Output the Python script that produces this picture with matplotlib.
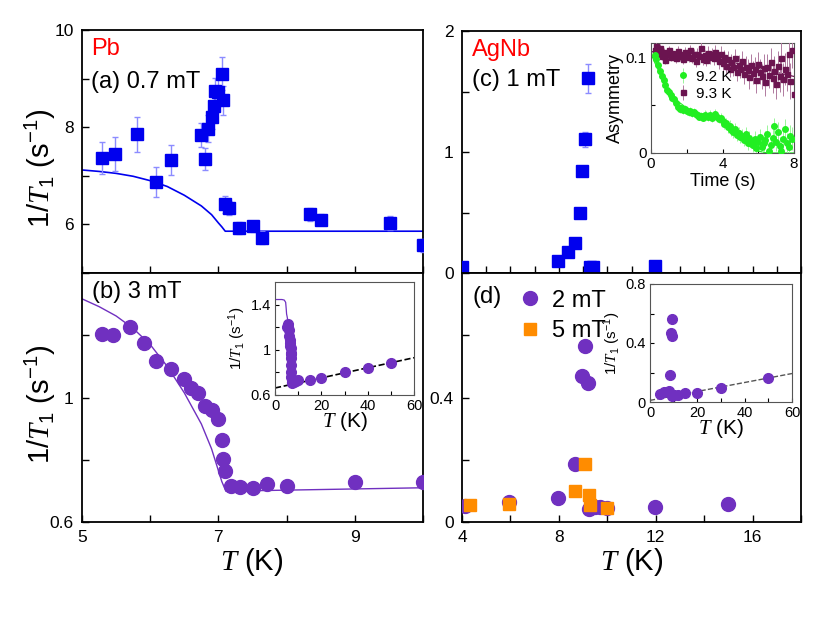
import matplotlib
matplotlib.use("Agg")
import matplotlib.pyplot as plt
import numpy as np

plt.rcParams['font.family'] = ['Liberation Sans', 'DejaVu Sans']
plt.rcParams['mathtext.fontset'] = 'custom'
plt.rcParams['mathtext.it'] = 'Liberation Serif:italic'
plt.rcParams['mathtext.rm'] = 'Liberation Sans'
plt.rcParams['mathtext.default'] = 'rm'

# ---------------- data ----------------
# (a) Pb, 0.7 mT
a_T = [5.29, 5.49, 5.80, 6.09, 6.30, 6.74, 6.80, 6.85, 6.90, 6.94, 6.95, 7.00, 7.05, 7.07,
       7.09, 7.15, 7.30, 7.50, 7.64, 8.34, 8.50, 9.51, 10.0]
a_R = [7.36, 7.45, 7.85, 6.88, 7.33, 7.84, 7.34, 7.97, 8.21, 8.43, 8.74, 8.72, 9.10, 8.55,
       6.41, 6.34, 5.93, 5.96, 5.73, 6.21, 6.10, 6.03, 5.57]
a_E = [0.33, 0.35, 0.36, 0.31, 0.31, 0.25, 0.23, 0.28, 0.25, 0.27, 0.28, 0.28, 0.34, 0.30,
       0.17, 0.15, 0.12, 0.12, 0.13, 0.13, 0.12, 0.14, 0.13]
a_fitT = [5.0, 5.25, 5.5, 5.75, 6.0, 6.25, 6.5, 6.75, 6.9, 7.0, 7.05, 7.1, 10.0]
a_fitR = [7.12, 7.09, 7.05, 6.99, 6.90, 6.78, 6.60, 6.38, 6.20, 6.03, 5.95, 5.86, 5.86]

# (b) Pb, 3 mT
b_T = [5.29, 5.45, 5.70, 5.91, 6.09, 6.30, 6.50, 6.60, 6.70, 6.80, 6.90, 7.00, 7.05, 7.07,
       7.10, 7.19, 7.31, 7.50, 7.71, 8.00, 9.00, 10.0]
b_R = [1.204, 1.200, 1.226, 1.175, 1.118, 1.091, 1.059, 1.030, 1.016, 0.973, 0.961, 0.930,
       0.863, 0.804, 0.763, 0.715, 0.711, 0.709, 0.723, 0.715, 0.728, 0.729]
b_fitT = [5.0, 5.25, 5.5, 5.75, 6.0, 6.25, 6.5, 6.75, 6.9, 7.0, 7.05, 7.11, 10.0]
b_fitR = [1.317, 1.292, 1.262, 1.222, 1.170, 1.100, 1.015, 0.915, 0.835, 0.765, 0.730, 0.699, 0.710]
# (b) inset extra high-T points
bi_T = [15, 20, 30, 40, 50]
bi_R = [0.732, 0.748, 0.805, 0.843, 0.879]
bi_fitT = [0, 3, 4, 4.6, 4.85]
bi_fitR = [1.445, 1.445, 1.44, 1.42, 1.36]
bi_lineT = [0, 60]
bi_lineR = [0.662, 0.930]

# (c) AgNb, 1 mT
c_T = [4.0, 7.98, 8.36, 8.66, 8.88, 8.97, 9.08, 9.20, 9.27, 9.39, 11.96]
c_R = [0.052, 0.097, 0.177, 0.246, 0.50, 0.843, 1.105, 1.608, 0.052, 0.047, 0.058]
c_E = [0, 0, 0, 0, 0, 0, 0.06, 0.12, 0, 0, 0]

# (c) inset: asymmetry vs time
t_92 = [0.2, 0.3, 0.4, 0.5, 0.6, 0.7, 0.8, 0.9, 1.0, 1.1, 1.2, 1.3, 1.4, 1.5, 1.6, 1.7, 1.8,
        1.9, 2.0, 2.1, 2.2, 2.3, 2.4, 2.5, 2.6, 2.7, 2.8, 2.9, 3.0, 3.1, 3.2, 3.3, 3.4, 3.5,
        3.6, 3.7, 3.8, 3.9, 4.0, 4.1, 4.2, 4.3, 4.4, 4.5, 4.6, 4.7, 4.8, 4.9, 5.0, 5.1, 5.2,
        5.3, 5.4, 5.5, 5.6, 5.7, 5.8, 5.9, 6.0, 6.1, 6.2, 6.3, 6.4, 6.5, 6.6, 6.7, 6.8, 6.9,
        7.0, 7.1, 7.2, 7.3, 7.4, 7.5, 7.6, 7.7, 7.8, 7.9]
A_92 = [0.102, 0.098, 0.092, 0.086, 0.080, 0.076, 0.071, 0.066, 0.064, 0.061, 0.058, 0.056,
        0.052, 0.048, 0.046, 0.047, 0.045, 0.046, 0.044, 0.043, 0.044, 0.042, 0.043, 0.041,
        0.040, 0.038, 0.039, 0.037, 0.040, 0.039, 0.038, 0.040, 0.037, 0.039, 0.041, 0.038,
        0.036, 0.037, 0.033, 0.030, 0.031, 0.027, 0.028, 0.024, 0.022, 0.025, 0.019, 0.021,
        0.017, 0.018, 0.014, 0.020, 0.010, 0.016, 0.012, 0.008, 0.015, 0.005, 0.012, 0.017,
        0.006, 0.010, 0.014, 0.020, 0.002, 0.008, 0.016, 0.028, 0.012, 0.022, 0.007, 0.002,
        0.015, 0.025, 0.010, 0.006, 0.018, 0.015]
E_92 = [0.003, 0.003, 0.003, 0.003, 0.003, 0.003, 0.003, 0.003, 0.003, 0.003, 0.003, 0.003,
        0.004, 0.004, 0.004, 0.004, 0.004, 0.004, 0.004, 0.004, 0.004, 0.004, 0.004, 0.004,
        0.004, 0.004, 0.004, 0.004, 0.005, 0.005, 0.005, 0.005, 0.005, 0.005, 0.005, 0.005,
        0.005, 0.005, 0.005, 0.005, 0.006, 0.006, 0.006, 0.006, 0.006, 0.006, 0.006, 0.006,
        0.007, 0.007, 0.007, 0.007, 0.007, 0.007, 0.007, 0.007, 0.008, 0.008, 0.008, 0.008,
        0.008, 0.008, 0.009, 0.009, 0.009, 0.009, 0.009, 0.009, 0.010, 0.010, 0.010, 0.010,
        0.010, 0.011, 0.011, 0.011, 0.011, 0.012]
t_93 = [0.2, 0.3, 0.4, 0.5, 0.6, 0.7, 0.8, 0.9, 1.0, 1.1, 1.2, 1.3, 1.4, 1.5, 1.6, 1.7, 1.8,
        1.9, 2.0, 2.1, 2.2, 2.3, 2.4, 2.5, 2.6, 2.7, 2.8, 2.9, 3.0, 3.1, 3.2, 3.3, 3.4, 3.5,
        3.6, 3.7, 3.8, 3.9, 4.0, 4.1, 4.2, 4.3, 4.4, 4.5, 4.6, 4.7, 4.8, 4.9, 5.0, 5.1, 5.2,
        5.3, 5.4, 5.5, 5.6, 5.7, 5.8, 5.9, 6.0, 6.1, 6.2, 6.3, 6.4, 6.5, 6.6, 6.7, 6.8, 6.9,
        7.0, 7.1, 7.2, 7.3, 7.4, 7.5, 7.6, 7.7, 7.8, 7.9, 8.0]
A_93 = [0.108, 0.112, 0.104, 0.110, 0.101, 0.106, 0.097, 0.104, 0.108, 0.100, 0.105, 0.103,
        0.099, 0.107, 0.101, 0.104, 0.098, 0.106, 0.102, 0.100, 0.108, 0.099, 0.103, 0.096,
        0.104, 0.101, 0.110, 0.098, 0.102, 0.097, 0.105, 0.100, 0.103, 0.099, 0.106, 0.101,
        0.096, 0.104, 0.094, 0.100, 0.091, 0.098, 0.088, 0.095, 0.090, 0.099, 0.085, 0.092,
        0.088, 0.096, 0.083, 0.090, 0.087, 0.079, 0.092, 0.084, 0.088, 0.076, 0.093, 0.085,
        0.080, 0.089, 0.074, 0.090, 0.082, 0.095, 0.078, 0.086, 0.072, 0.091, 0.080, 0.099,
        0.077, 0.088, 0.083, 0.104, 0.075, 0.108, 0.062]
E_93 = [0.004, 0.004, 0.004, 0.004, 0.004, 0.004, 0.004, 0.004, 0.004, 0.004, 0.004, 0.004,
        0.005, 0.005, 0.005, 0.005, 0.005, 0.005, 0.005, 0.005, 0.005, 0.005, 0.006, 0.006,
        0.006, 0.006, 0.006, 0.006, 0.006, 0.006, 0.007, 0.007, 0.007, 0.007, 0.007, 0.007,
        0.008, 0.008, 0.008, 0.008, 0.008, 0.009, 0.009, 0.009, 0.009, 0.010, 0.010, 0.010,
        0.010, 0.011, 0.011, 0.011, 0.011, 0.012, 0.012, 0.012, 0.012, 0.013, 0.013, 0.013,
        0.013, 0.014, 0.014, 0.014, 0.014, 0.015, 0.015, 0.015, 0.016, 0.016, 0.016, 0.017,
        0.017, 0.017, 0.018, 0.018, 0.019, 0.019, 0.020]
fit92_t = [0, 0.25, 0.5, 0.75, 1.0, 1.5, 2.0, 2.5, 3.0, 3.5, 4.0, 4.5, 5.0, 5.5, 6.0, 6.5, 8.0]
fit92_A = [0.104, 0.093, 0.083, 0.073, 0.065, 0.054, 0.047, 0.043, 0.040, 0.037, 0.032,
           0.024, 0.015, 0.007, 0.002, 0.0, 0.0]
fit93_t = [0, 2, 4, 6, 8]
fit93_A = [0.106, 0.103, 0.097, 0.089, 0.080]

# (d) AgNb, 2 mT and 5 mT
d2_T = [4.11, 5.96, 7.98, 8.65, 8.94, 9.09, 9.20, 9.24, 9.49, 9.69, 9.98, 11.96, 14.99]
d2_R = [0.051, 0.065, 0.077, 0.185, 0.470, 0.566, 0.446, 0.042, 0.048, 0.048, 0.046, 0.049, 0.058]
d5_T = [4.34, 5.96, 8.65, 9.06, 9.23, 9.27, 9.98]
d5_R = [0.056, 0.058, 0.099, 0.185, 0.086, 0.054, 0.045]
# (d) inset extra high-T points
di_T = [20, 30, 50]
di_R = [0.062, 0.097, 0.163]
di_lineT = [0, 60]
di_lineR = [0.011, 0.193]

BLUE = '#0000ee'
EBLUE = '#8c8cff'
PURPLE = '#7030c0'
ORANGE = '#ff8c00'
GREEN = '#22ee22'
MAROON = '#6b1450'

fig = plt.figure(figsize=(8.3, 6.42), dpi=100)
W, H = 830.0, 642.0

def fpos(x0, y0, x1, y1):
    return [x0 / W, 1 - y1 / H, (x1 - x0) / W, (y1 - y0) / H]

ax_a = fig.add_axes(fpos(82, 30, 423, 273))
ax_b = fig.add_axes(fpos(82, 273, 423, 522))
ax_c = fig.add_axes(fpos(462, 31, 801, 273))
ax_d = fig.add_axes(fpos(462, 273, 801, 522))

TL = 12.5
for ax in (ax_a, ax_b, ax_c, ax_d):
    ax.tick_params(direction='in', length=5, width=1, labelsize=TL, top=False, right=False, pad=6)
    for s in ax.spines.values():
        s.set_linewidth(1.3)

# (a)
ax_a.plot(a_fitT, a_fitR, color=BLUE, lw=1.2, zorder=2)
ax_a.errorbar(a_T, a_R, yerr=a_E, fmt='s', color=BLUE, ms=8, ecolor=EBLUE, elinewidth=1,
              capsize=2, capthick=1, zorder=3)
ax_a.set_xlim(5, 10)
ax_a.set_ylim(5, 10)
ax_a.set_xticks([5, 6, 7, 8, 9, 10])
ax_a.set_xticklabels([])
ax_a.set_yticks([5, 6, 7, 8, 9, 10])
ax_a.set_yticklabels(['', '6', '', '8', '', '10'])
ax_a.text(0.026, 0.897, 'Pb', color='red', fontsize=17, transform=ax_a.transAxes, va='baseline')
ax_a.text(0.026, 0.761, '(a) 0.7 mT', color='black', fontsize=17, transform=ax_a.transAxes, va='baseline')

# (b)
ax_b.plot(b_fitT, b_fitR, color=PURPLE, lw=1.0, zorder=2)
ax_b.plot(b_T, b_R, 'o', color=PURPLE, ms=10, zorder=3)
ax_b.set_xlim(5, 10)
ax_b.set_ylim(0.6, 1.4)
ax_b.set_xticks([5, 6, 7, 8, 9, 10])
ax_b.set_xticklabels(['5', '', '7', '', '9', ''])
ax_b.set_yticks([0.6, 0.8, 1.0, 1.2, 1.4])
ax_b.set_yticklabels(['0.6', '', '1', '', ''])
ax_b.text(0.029, 0.90, '(b) 3 mT', fontsize=17, transform=ax_b.transAxes, va='baseline')

# (b) inset
ib = fig.add_axes(fpos(275, 282, 414, 395))
ib.plot(bi_lineT, bi_lineR, '--', color='black', lw=1.2, zorder=2)
ib.plot(bi_fitT + b_fitT, bi_fitR + b_fitR, color=PURPLE, lw=0.9, zorder=2)
ib.plot(b_T + bi_T, b_R + bi_R, 'o', color=PURPLE, ms=7, zorder=3)
ib.set_xlim(0, 60)
ib.set_ylim(0.6, 1.6)
ib.set_xticks([0, 10, 20, 30, 40, 50, 60])
ib.set_xticklabels(['0', '', '20', '', '40', '', '60'])
ib.set_yticks([0.6, 0.8, 1.0, 1.2, 1.4])
ib.set_yticklabels(['0.6', '', '1', '', '1.4'])
ib.tick_params(direction='in', length=3, labelsize=10.5, pad=3)
for s in ib.spines.values():
    s.set_color('#555555')
ib.set_ylabel(r'1/$\mathit{T}_1$ (s$^{-1}$)', fontsize=11, labelpad=2)
ib.set_xlabel(r'$\mathit{T}$ (K)', fontsize=15, labelpad=-2)

# (c)
ax_c.errorbar(c_T, c_R, yerr=c_E, fmt='s', color=BLUE, ms=8, ecolor=EBLUE, elinewidth=1,
              capsize=2, capthick=1, zorder=3)
ax_c.set_xlim(4, 18)
ax_c.set_ylim(0, 2)
ax_c.set_xticks(list(range(4, 19)))
ax_c.set_xticklabels([])
ax_c.set_yticks([0, 0.5, 1, 1.5, 2])
ax_c.set_yticklabels(['0', '', '1', '', '2'])
ax_c.text(0.03, 0.897, 'AgNb', color='red', fontsize=17, transform=ax_c.transAxes, va='baseline')
ax_c.text(0.03, 0.774, '(c) 1 mT', fontsize=17, transform=ax_c.transAxes, va='baseline')

# (c) inset
ic = fig.add_axes(fpos(651, 43, 794, 153))
ic.plot(fit92_t, fit92_A, color=GREEN, lw=0.9, zorder=2)
ic.plot(fit93_t, fit93_A, color=MAROON, lw=0.9, zorder=2)
ic.errorbar(t_93, A_93, yerr=E_93, fmt='s', color=MAROON, ms=3.6, ecolor='#b07aa0',
            elinewidth=0.7, zorder=3, label='9.3 K')
ic.errorbar(t_92, A_92, yerr=E_92, fmt='o', color=GREEN, ms=4, ecolor='#99f599',
            elinewidth=0.7, zorder=4, label='9.2 K')
ic.set_xlim(0, 8)
ic.set_ylim(0, 0.115)
ic.set_xticks([0, 2, 4, 6, 8])
ic.set_xticklabels(['0', '', '4', '', '8'])
ic.set_yticks([0, 0.05, 0.1])
ic.set_yticklabels(['0', '', '0.1'])
ic.tick_params(direction='in', length=3, labelsize=11, pad=3)
for s in ic.spines.values():
    s.set_color('#555555')
ic.set_ylabel('Asymmetry', fontsize=13, labelpad=1)
ic.set_xlabel('Time (s)', fontsize=13, labelpad=1)
h, l = ic.get_legend_handles_labels()
ic.legend([h[1], h[0]], [l[1], l[0]], loc='upper left', bbox_to_anchor=(0.12, 0.84),
          frameon=False, fontsize=11, handlelength=0.8, handletextpad=0.4,
          borderpad=0.1, labelspacing=0.2)

# (d)
ax_d.plot(d2_T, d2_R, 'o', color=PURPLE, ms=10, zorder=3, label='2 mT')
ax_d.plot(d5_T, d5_R, 's', color=ORANGE, ms=8, zorder=4, label='5 mT')
ax_d.set_xlim(4, 18)
ax_d.set_ylim(0, 0.8)
ax_d.set_xticks([4, 6, 8, 10, 12, 14, 16, 18])
ax_d.set_xticklabels(['4', '', '8', '', '12', '', '16', ''])
ax_d.set_yticks([0, 0.2, 0.4, 0.6, 0.8])
ax_d.set_yticklabels(['0', '', '0.4', '', ''])
ax_d.text(0.03, 0.88, '(d)', fontsize=17, transform=ax_d.transAxes, va='baseline')
ax_d.legend(loc='upper left', bbox_to_anchor=(0.12, 1.0), frameon=False, fontsize=17,
            handlelength=0.9, handletextpad=0.5, borderpad=0.2, labelspacing=0.35)

# (d) inset
idd = fig.add_axes(fpos(650, 284, 792, 402))
idd.plot(di_lineT, di_lineR, '--', color='#555555', lw=1.0, zorder=2)
idd.plot(d2_T + di_T, d2_R + di_R, 'o', color=PURPLE, ms=7, zorder=3)
idd.set_xlim(0, 60)
idd.set_ylim(0, 0.8)
idd.set_xticks([0, 10, 20, 30, 40, 50, 60])
idd.set_xticklabels(['0', '', '20', '', '40', '', '60'])
idd.set_yticks([0, 0.2, 0.4, 0.6, 0.8])
idd.set_yticklabels(['0', '', '0.4', '', '0.8'])
idd.tick_params(direction='in', length=3, labelsize=10.5, pad=3)
for s in idd.spines.values():
    s.set_color('#555555')
idd.set_ylabel(r'1/$\mathit{T}_1$ (s$^{-1}$)', fontsize=11, labelpad=2)
idd.set_xlabel(r'$\mathit{T}$ (K)', fontsize=15, labelpad=-2)

# main axis labels
ylab = r'1/$\mathit{T}_1$ (s$^{-1}$)'
fig.text(40 / W, 1 - 168 / H, ylab, rotation=90, fontsize=21, ha='center', va='center')
fig.text(40 / W, 1 - 404 / H, ylab, rotation=90, fontsize=21, ha='center', va='center')
fig.text(252 / W, 1 - 562 / H, r'$\mathit{T}$ (K)', fontsize=21, ha='center', va='center')
fig.text(632 / W, 1 - 562 / H, r'$\mathit{T}$ (K)', fontsize=21, ha='center', va='center')

fig.savefig('out.png', dpi=100)
